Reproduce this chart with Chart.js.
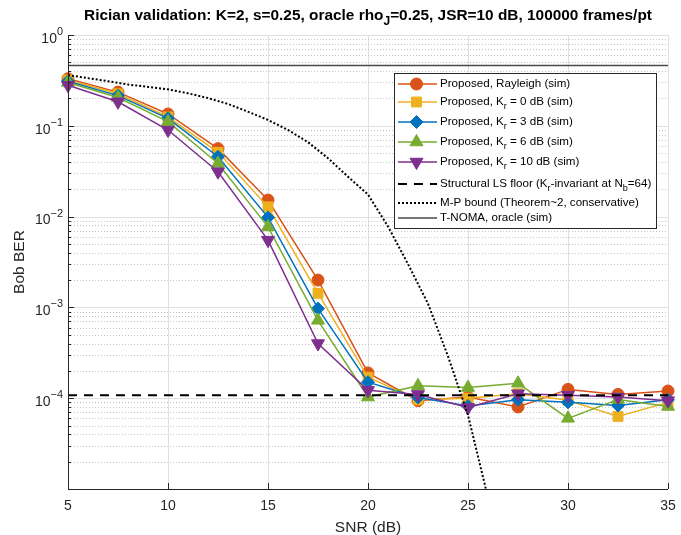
<!DOCTYPE html>
<html>
<head>
<meta charset="utf-8">
<script src="https://cdn.jsdelivr.net/npm/chart.js@4.4.1/dist/chart.umd.min.js"></script>
<style>
  html, body { margin: 0; padding: 0; background: #fff; }
  #wrap { width: 681px; height: 535px; }
</style>
</head>
<body>
<div id="wrap"><canvas id="berChart" width="681" height="535"></canvas></div>
<script>
// values
const snr = [5, 7.5, 10, 12.5, 15, 17.5, 20, 22.5, 25, 27.5, 30, 32.5, 35];
const berRayleigh = [0.33, 0.235, 0.135, 0.056, 0.0152, 2.0e-3, 1.9e-4, 9.4e-5, 1.03e-4, 8.0e-5, 1.25e-4, 1.1e-4, 1.2e-4];
const berKr0 = [0.32, 0.225, 0.125, 0.051, 0.0128, 1.43e-3, 1.7e-4, 9.6e-5, 1.0e-4, 1.12e-4, 9.5e-5, 6.3e-5, 9.0e-5];
const berKr3 = [0.31, 0.215, 0.121, 0.0456, 0.0098, 9.7e-4, 1.5e-4, 1.02e-4, 8.2e-5, 9.6e-5, 9.0e-5, 8.3e-5, 9.6e-5];
const berKr6 = [0.30, 0.205, 0.111, 0.0385, 0.0077, 7.2e-4, 1.03e-4, 1.37e-4, 1.31e-4, 1.46e-4, 6.0e-5, 9.7e-5, 8.1e-5];
const berKr10 = [0.28, 0.184, 0.0898, 0.0312, 0.0055, 4.0e-4, 1.22e-4, 1.1e-4, 7.9e-5, 1.12e-4, 1.08e-4, 1.03e-4, 9.4e-5];
const floorSnr = [5, 35];
const floorBer = [1.08e-4, 1.08e-4];
const boundSnr = [5, 6, 7, 8, 9, 10, 11, 12, 13, 14, 15, 16, 17, 18, 19, 20, 21, 22, 23, 24, 25, 26];
const boundBer = [0.362, 0.335, 0.31, 0.285, 0.268, 0.252, 0.228, 0.202, 0.174, 0.143, 0.116, 0.09, 0.066, 0.044, 0.0275, 0.0175, 0.0078, 0.003, 0.0011, 2.9e-4, 6.5e-5, 8e-6];
const tnomaBer = [0.46, 0.46, 0.46, 0.46, 0.46, 0.46, 0.46, 0.46, 0.46, 0.46, 0.46, 0.46, 0.46];

const seriesLabels = [
  'Proposed, Rayleigh (sim)',
  'Proposed, K_{r} = 0 dB (sim)',
  'Proposed, K_{r} = 3 dB (sim)',
  'Proposed, K_{r} = 6 dB (sim)',
  'Proposed, K_{r} = 10 dB (sim)',
  'Structural LS floor (K_{r}-invariant at N_{b}=64)',
  'M-P bound (Theorem~2, conservative)',
  'T-NOMA, oracle (sim)'
];
const titleText = 'Rician validation: K=2, s=0.25, oracle rho_{J}=0.25, JSR=10 dB, 100000 frames/pt';
const xLabel = 'SNR (dB)';
const yLabel = 'Bob BER';
const xTicks = [5, 10, 15, 20, 25, 30, 35];
const yTicks = [1, 1e-1, 1e-2, 1e-3, 1e-4];
const yTickLabels = ['10^{0}', '10^{\u22121}', '10^{\u22122}', '10^{\u22123}', '10^{\u22124}'];

const FONT = '"Liberation Sans", Arial, Helvetica, sans-serif';
const AXIS_COLOR = '#262626';

const toPoints = (xs, ys) => xs.map((x, i) => ({ x: x, y: ys[i] }));

function series(label, data, color, style, radius, rotation) {
  return {
    label: label,
    data: toPoints(snr, data),
    borderColor: color,
    backgroundColor: color,
    borderWidth: 1.5,
    pointStyle: style,
    pointRadius: radius,
    pointRotation: rotation || 0,
    pointBorderWidth: 1,
    pointBackgroundColor: color,
    pointBorderColor: color,
    pointHoverRadius: radius,
    tension: 0,
    clip: false
  };
}

const datasets = [
  series(seriesLabels[0], berRayleigh, '#D95319', 'circle', 6),
  series(seriesLabels[1], berKr0, '#EDB120', 'rect', 7),
  series(seriesLabels[2], berKr3, '#0072BD', 'rectRot', 6.5),
  series(seriesLabels[3], berKr6, '#77AC30', 'triangle', 7.5),
  series(seriesLabels[4], berKr10, '#7E2F8E', 'triangle', 7.5, 180),
  {
    label: seriesLabels[5], data: toPoints(floorSnr, floorBer),
    borderColor: '#000', borderWidth: 2, borderDash: [9, 7], pointRadius: 0, clip: false
  },
  {
    label: seriesLabels[6], data: toPoints(boundSnr, boundBer),
    borderColor: '#000', borderWidth: 2, borderDash: [2, 2], pointRadius: 0, clip: 0
  },
  {
    label: seriesLabels[7], data: toPoints(snr, tnomaBer),
    borderColor: '#4a4a4a', borderWidth: 1.5, pointRadius: 0, clip: false
  }
];
// MATLAB draws later lines on top
datasets.forEach((d, i) => { d.order = datasets.length - i; });

// small "rich text" helper for _{sub} and ^{sup}
function parseRich(str) {
  const parts = [];
  const re = /([_^])\{([^}]*)\}/g;
  let last = 0, m;
  while ((m = re.exec(str)) !== null) {
    if (m.index > last) parts.push({ t: str.slice(last, m.index), k: 'n' });
    parts.push({ t: m[2], k: m[1] === '_' ? 'sub' : 'sup' });
    last = re.lastIndex;
  }
  if (last < str.length) parts.push({ t: str.slice(last), k: 'n' });
  return parts;
}

function drawRich(ctx, str, x, y, size, align, weight) {
  const w = weight || 'normal';
  const small = size * 0.78;
  const parts = parseRich(str);
  let total = 0;
  parts.forEach(p => {
    ctx.font = w + ' ' + (p.k === 'n' ? size : small) + 'px ' + FONT;
    p.w = ctx.measureText(p.t).width;
    total += p.w;
  });
  let cx = x;
  if (align === 'center') cx = x - total / 2;
  else if (align === 'right') cx = x - total;
  ctx.textAlign = 'left';
  ctx.textBaseline = 'middle';
  parts.forEach(p => {
    ctx.font = w + ' ' + (p.k === 'n' ? size : small) + 'px ' + FONT;
    let dy = 0;
    if (p.k === 'sub') dy = size * 0.38;
    if (p.k === 'sup') dy = -size * 0.5;
    ctx.fillText(p.t, cx, y + dy);
    cx += p.w;
  });
}

const matlabAxes = {
  id: 'matlabAxes',
  beforeDatasetsDraw(chart) {
    const ctx = chart.ctx;
    const area = chart.chartArea;
    const xs = chart.scales.x, ys = chart.scales.y;
    ctx.save();
    ctx.lineWidth = 1;
    // vertical major grid
    ctx.strokeStyle = '#e0e0e0';
    xTicks.forEach(v => {
      const px = Math.round(xs.getPixelForValue(v)) + 0.5;
      ctx.beginPath(); ctx.moveTo(px, area.top); ctx.lineTo(px, area.bottom); ctx.stroke();
    });
    // horizontal grid: solid decades, dotted minors
    for (let k = -5; k <= 0; k++) {
      for (let m = 1; m <= 9; m++) {
        const v = m * Math.pow(10, k);
        if (v < ys.min * 0.999 || v > ys.max * 1.001) continue;
        const py = Math.round(ys.getPixelForValue(v)) + 0.5;
        if (m === 1) { ctx.strokeStyle = '#e0e0e0'; ctx.setLineDash([]); }
        else { ctx.strokeStyle = '#c6c6c6'; ctx.setLineDash([1, 2]); }
        ctx.beginPath(); ctx.moveTo(area.left, py); ctx.lineTo(area.right, py); ctx.stroke();
      }
    }
    ctx.setLineDash([]);
    ctx.restore();
  },
  afterDraw(chart) {
    const ctx = chart.ctx;
    const area = chart.chartArea;
    const xs = chart.scales.x, ys = chart.scales.y;
    ctx.save();
    // axes lines
    ctx.strokeStyle = AXIS_COLOR;
    ctx.lineWidth = 1;
    ctx.beginPath();
    ctx.moveTo(area.left + 0.5, area.top);
    ctx.lineTo(area.left + 0.5, area.bottom + 0.5);
    ctx.lineTo(area.right, area.bottom + 0.5);
    ctx.stroke();
    // inward ticks
    ctx.beginPath();
    xTicks.forEach(v => {
      const px = Math.round(xs.getPixelForValue(v)) + 0.5;
      ctx.moveTo(px, area.bottom); ctx.lineTo(px, area.bottom - 6);
    });
    for (let k = -5; k <= 0; k++) {
      for (let m = 1; m <= 9; m++) {
        const v = m * Math.pow(10, k);
        if (v < ys.min * 0.999 || v > ys.max * 1.001) continue;
        const py = Math.round(ys.getPixelForValue(v)) + 0.5;
        ctx.moveTo(area.left, py); ctx.lineTo(area.left + (m === 1 ? 6 : 3), py);
      }
    }
    ctx.stroke();

    // tick labels
    ctx.fillStyle = AXIS_COLOR;
    ctx.font = '14px ' + FONT;
    ctx.textAlign = 'center';
    ctx.textBaseline = 'middle';
    xTicks.forEach(v => ctx.fillText(String(v), xs.getPixelForValue(v), area.bottom + 17));
    yTicks.forEach((v, i) => {
      drawRich(ctx, yTickLabels[i], area.left - 5, ys.getPixelForValue(v) + 4, 14, 'right');
    });

    // axis labels
    drawRich(ctx, xLabel, (area.left + area.right) / 2, area.bottom + 39, 15.5, 'center');
    ctx.save();
    ctx.translate(20, (area.top + area.bottom) / 2);
    ctx.rotate(-Math.PI / 2);
    drawRich(ctx, yLabel, 0, 0, 15.5, 'center');
    ctx.restore();

    // title
    ctx.fillStyle = '#000';
    drawRich(ctx, titleText, (area.left + area.right) / 2, 16, 15.4, 'center', 'bold');

    // legend box
    const box = { l: 394.5, t: 73.5, r: 656.5, b: 228.5 };
    ctx.fillStyle = '#fff';
    ctx.fillRect(box.l, box.t, box.r - box.l, box.b - box.t);
    ctx.strokeStyle = AXIS_COLOR;
    ctx.lineWidth = 1;
    ctx.strokeRect(box.l, box.t, box.r - box.l, box.b - box.t);
    const rowY = [84, 102, 122, 142, 162, 184, 203, 218];
    chart.data.datasets.forEach((d, i) => {
      const y = rowY[i];
      ctx.save();
      ctx.strokeStyle = d.borderColor;
      ctx.lineWidth = d.borderWidth;
      ctx.setLineDash(d.borderDash || []);
      ctx.beginPath(); ctx.moveTo(398, y); ctx.lineTo(437, y); ctx.stroke();
      ctx.setLineDash([]);
      if (d.pointRadius > 0) {
        ctx.fillStyle = d.pointBackgroundColor;
        ctx.strokeStyle = d.pointBorderColor;
        ctx.lineWidth = d.pointBorderWidth;
        Chart.helpers.drawPoint(ctx, {
          pointStyle: d.pointStyle, rotation: d.pointRotation,
          radius: d.pointRadius, borderWidth: d.pointBorderWidth
        }, 416.5, y);
      }
      ctx.restore();
      ctx.fillStyle = '#000';
      drawRich(ctx, d.label, 440, y, 11.6, 'left');
    });
    ctx.restore();
  }
};

new Chart(document.getElementById('berChart'), {
  type: 'line',
  data: { datasets: datasets },
  options: {
    responsive: false,
    animation: false,
    devicePixelRatio: 1,
    layout: { autoPadding: false, padding: { left: 68, right: 13, top: 35, bottom: 46 } },
    plugins: { legend: { display: false }, title: { display: false }, tooltip: { enabled: false } },
    scales: {
      x: {
        type: 'linear', min: 5, max: 35,
        ticks: { display: false },
        grid: { display: false, drawTicks: false },
        border: { display: false },
        afterFit: s => { s.height = 0; }
      },
      y: {
        type: 'logarithmic', min: 1e-5, max: 1,
        ticks: { display: false },
        grid: { display: false, drawTicks: false },
        border: { display: false },
        afterFit: s => { s.width = 0; }
      }
    }
  },
  plugins: [matlabAxes]
});
</script>
</body>
</html>
